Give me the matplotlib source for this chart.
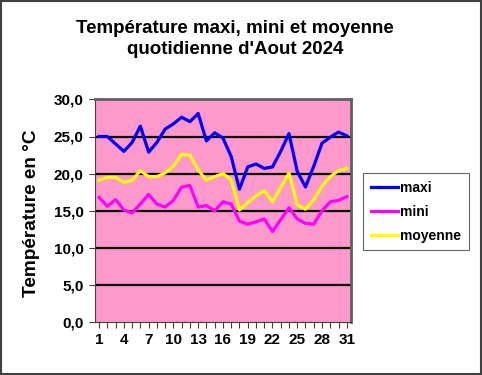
import matplotlib.pyplot as plt
from matplotlib.patches import Rectangle

plt.rcParams['font.family'] = ['Liberation Sans', 'DejaVu Sans']

days = list(range(1, 32))
maxi = [25.0, 25.0, 24.0, 23.0, 24.2, 26.4, 22.9, 24.2, 26.0, 26.7, 27.6, 27.0, 28.1, 24.4, 25.5, 24.8,
        22.3, 17.9, 20.9, 21.3, 20.7, 20.9, 23.0, 25.4, 20.3, 18.2, 21.0, 24.1, 24.9, 25.6, 25.1]
mini = [16.8, 15.6, 16.5, 15.1, 14.7, 15.9, 17.2, 15.9, 15.5, 16.4, 18.2, 18.4, 15.5, 15.7, 15.0, 16.2,
        15.9, 13.6, 13.2, 13.5, 13.9, 12.2, 13.8, 15.4, 13.9, 13.3, 13.2, 15.0, 16.2, 16.4, 16.9]
moyenne = [19.1, 19.5, 19.5, 18.8, 19.1, 20.4, 19.6, 19.6, 20.1, 21.0, 22.6, 22.5, 20.5, 19.1, 19.6, 20.0,
           19.2, 15.1, 16.1, 17.0, 17.7, 16.2, 18.1, 20.1, 15.8, 15.2, 16.5, 18.3, 19.6, 20.4, 20.7]
yticks = [0, 5, 10, 15, 20, 25, 30]
xticks = list(range(1, 32, 3))

fig = plt.figure(figsize=(4.82, 3.75), dpi=100)
fig.patches.append(Rectangle((0.002, 0.003), 0.996, 0.994, transform=fig.transFigure,
                             fill=False, edgecolor='#404040', linewidth=1.5))

ax = fig.add_axes([0.197, 0.141, 0.531, 0.594])
ax.set_facecolor('#FF99CC')
for y in yticks[1:-1]:
    ax.axhline(y, color='black', linewidth=1.6, zorder=1)

ax.plot(days, maxi, color='#0000FF', linewidth=2.3, label='maxi', zorder=3)
ax.plot(days, mini, color='#FF00FF', linewidth=2.3, label='mini', zorder=3)
ax.plot(days, moyenne, color='#FFFF00', linewidth=2.3, label='moyenne', zorder=3)

ax.set_xlim(0.5, 31.5)
ax.set_ylim(0, 30)
ax.set_yticks(yticks)
ax.set_yticklabels([f"{v:.1f}".replace('.', ',') for v in yticks], fontweight='bold', fontsize=11)
ax.set_xticks(xticks)
ax.set_xticklabels([str(d) for d in xticks], fontweight='bold', fontsize=11)
ax.set_xticks(days, minor=True)
ax.tick_params(axis='x', which='both', length=4, width=0.8, color='#404040', pad=4)
ax.tick_params(axis='y', length=4, width=0.8, color='#404040', pad=4)

for side in ['top', 'right']:
    ax.spines[side].set_color('#606060')
    ax.spines[side].set_linewidth(2)
ax.spines['left'].set_color('#404040')
ax.spines['bottom'].set_color('#404040')

ax.set_ylabel('Température en °C', fontweight='bold', fontsize=13.7)
ax.yaxis.set_label_coords(-0.214, 0.49)

fig.text(0.487, 0.897, "Température maxi, mini et moyenne\nquotidienne d'Aout 2024",
         ha='center', va='center', fontweight='bold', fontsize=13.5, linespacing=1.3)

leg = fig.legend(loc='upper left', bbox_to_anchor=(0.753, 0.539), frameon=True, fancybox=False,
                 edgecolor='#404040', prop={'weight': 'bold', 'size': 10}, handlelength=1.95,
                 handletextpad=0.2, labelspacing=0.72, borderpad=0.55, borderaxespad=0)
leg.get_frame().set_linewidth(0.8)

fig.savefig('out.png', dpi=100)
